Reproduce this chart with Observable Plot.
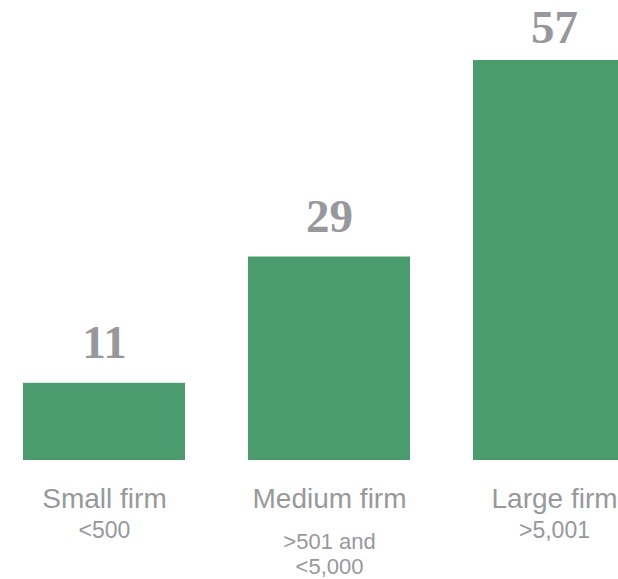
<!DOCTYPE html>
<html>
<head>
<meta charset="utf-8">
<script src="https://cdn.jsdelivr.net/npm/d3@7"></script>
<script src="https://cdn.jsdelivr.net/npm/@observablehq/plot@0.6"></script>
<style>
  html, body { margin: 0; padding: 0; background: #fff; overflow: hidden; }
  #chart svg { display: block; }
</style>
</head>
<body>
<div id="chart"></div>
<script>
const categories = ["Small firm", "Medium firm", "Large firm"];
const subLabels = ["<500", ">501 and\n<5,000", ">5,001"];
const values = [11, 29, 57];

const data = categories.map((c, i) => ({category: c, sub: subLabels[i], value: values[i]}));
const maxV = d3.max(values);

const green = "#4a9b6d";
const gray = "#98989c";
const sans = "'Liberation Sans', Arial, sans-serif";
const serif = "'Liberation Serif', 'Times New Roman', serif";

const chart = Plot.plot({
  width: 618,
  height: 579,
  margin: 0,
  x: {domain: categories, range: [23, 635], paddingInner: 0.28, paddingOuter: 0, axis: null},
  y: {domain: [0, maxV], range: [460, 60], axis: null},
  marks: [
    Plot.barY(data, {x: "category", y: "value", fill: green, clip: true}),
    Plot.text(data.filter(d => d.value < maxV), {
      x: "category", y: "value", text: d => String(d.value),
      lineAnchor: "bottom", dy: -25, fill: gray,
      fontFamily: serif, fontWeight: "bold", fontSize: 47
    }),
    Plot.text(data.filter(d => d.value === maxV), {
      x: "category", y: "value", text: d => String(d.value),
      lineAnchor: "bottom", dy: -18, fill: gray,
      fontFamily: serif, fontWeight: "bold", fontSize: 47
    }),
    Plot.text(data, {
      x: "category", y: () => 0, text: "category",
      lineAnchor: "bottom", dy: 47, fill: gray,
      fontFamily: sans, fontSize: 28
    }),
    Plot.text(data.filter(d => !d.sub.includes("\n")), {
      x: "category", y: () => 0, text: "sub",
      lineAnchor: "bottom", dy: 77, fill: gray,
      fontFamily: sans, fontSize: 23
    }),
    Plot.text(data.filter(d => d.sub.includes("\n")), {
      x: "category", y: () => 0, text: "sub",
      lineAnchor: "bottom", dy: 113, lineHeight: 1.1, fill: gray,
      fontFamily: sans, fontSize: 22
    })
  ]
});
document.getElementById("chart").appendChild(chart);
</script>
</body>
</html>
